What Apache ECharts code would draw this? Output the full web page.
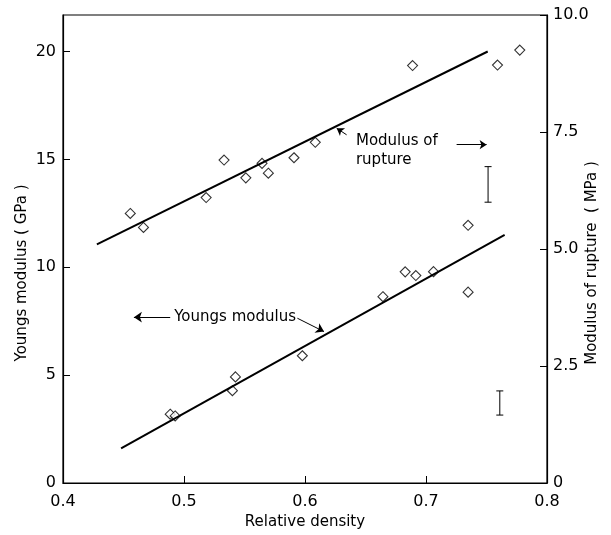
<!DOCTYPE html>
<html>
<head>
<meta charset="utf-8">
<script src="https://cdn.jsdelivr.net/npm/echarts@6/dist/echarts.min.js"></script>
<style>
  html, body { margin: 0; padding: 0; background: #fff; }
  #chart { width: 611px; height: 535px; }
</style>
</head>
<body>
<div id="chart"></div>
<script>
// Youngs modulus points (GPa, left axis)
var youngsX = [0.4886, 0.4927, 0.5400, 0.5425, 0.5978, 0.6644, 0.6828, 0.6916, 0.7062, 0.7348, 0.7348];
var youngsY = [3.19, 3.11, 4.28, 4.92, 5.90, 8.64, 9.79, 9.62, 9.80, 8.85, 11.95];
// Modulus of rupture points (MPa, right axis)
var ruptureX = [0.4556, 0.4665, 0.5183, 0.5331, 0.5511, 0.5645, 0.5697, 0.5909, 0.6085, 0.6889, 0.7591, 0.7775];
var ruptureY = [5.76, 5.46, 6.10, 6.90, 6.52, 6.83, 6.62, 6.95, 7.28, 8.92, 8.93, 9.25];
// fitted lines
var youngsFitX = [0.448, 0.765];
var youngsFitY = [1.61, 11.50];
var ruptureFitX = [0.428, 0.751];
var ruptureFitY = [5.10, 9.22];
// error bars
var gpaBarX = [0.761];
var gpaBarLow = [3.15];
var gpaBarHigh = [4.27];
var mpaBarX = [0.7513];
var mpaBarLow = [6.00];
var mpaBarHigh = [6.76];
// tick labels
var xTicks = [0.4, 0.5, 0.6, 0.7, 0.8];
var leftTicks = [0, 5, 10, 15, 20];
var rightTicks = [0, 2.5, 5, 7.5, 10];

var FONT = '"DejaVu Sans", sans-serif';

function zip(a, b) {
  var out = [];
  for (var i = 0; i < a.length; i++) out.push([a[i], b[i]]);
  return out;
}

function zip3(a, b, c) {
  var out = [];
  for (var i = 0; i < a.length; i++) out.push([a[i], b[i], c[i]]);
  return out;
}

function renderBar(params, api) {
  var top = api.coord([api.value(0), api.value(2)]);
  var bot = api.coord([api.value(0), api.value(1)]);
  var w = 3.5;
  var st = { stroke: '#000', lineWidth: 1 };
  return {
    type: 'group',
    children: [
      { type: 'line', shape: { x1: top[0], y1: top[1], x2: bot[0], y2: bot[1] }, style: st },
      { type: 'line', shape: { x1: top[0] - w, y1: top[1], x2: top[0] + w, y2: top[1] }, style: st },
      { type: 'line', shape: { x1: bot[0] - w, y1: bot[1], x2: bot[0] + w, y2: bot[1] }, style: st }
    ]
  };
}

function inList(list, v) {
  for (var i = 0; i < list.length; i++) {
    if (Math.abs(list[i] - v) < 1e-6) return true;
  }
  return false;
}

var axisLine = { show: true, lineStyle: { color: '#000', width: 1.2 } };
var axisTick = { show: true, inside: true, length: 7, lineStyle: { color: '#000', width: 1 } };

var chart = echarts.init(document.getElementById('chart'));

var option = {
  animation: false,
  backgroundColor: '#fff',
  grid: {
    left: 63, right: 64, top: 15, bottom: 52,
    show: true, borderColor: '#000', borderWidth: 1.2, backgroundColor: 'transparent'
  },
  xAxis: {
    type: 'value',
    min: 0.4, max: 0.8, interval: 0.1,
    axisLine: axisLine,
    axisTick: axisTick,
    splitLine: { show: false },
    axisLabel: {
      color: '#000', fontSize: 16, fontFamily: FONT, margin: 11,
      formatter: function (v) { return inList(xTicks, v) ? v.toFixed(1) : ''; }
    },
    name: 'Relative density',
    nameLocation: 'middle',
    nameGap: 31,
    nameTextStyle: { color: '#000', fontSize: 15, fontFamily: FONT }
  },
  yAxis: [
    {
      type: 'value',
      position: 'left',
      min: 0, max: 21.7, interval: 5,
      axisLine: axisLine,
      axisTick: axisTick,
      splitLine: { show: false },
      axisLabel: {
        color: '#000', fontSize: 16, fontFamily: FONT, margin: 7,
        showMaxLabel: false,
        formatter: function (v) { return inList(leftTicks, v) ? String(v) : ''; }
      }
    },
    {
      type: 'value',
      position: 'right',
      min: 0, max: 10, interval: 2.5,
      axisLine: axisLine,
      axisTick: axisTick,
      splitLine: { show: false },
      axisLabel: {
        color: '#000', fontSize: 16, fontFamily: FONT, margin: 6,
        formatter: function (v) {
          if (!inList(rightTicks, v)) return '';
          return v === 0 ? '0' : v.toFixed(1);
        }
      }
    }
  ],
  series: [
    {
      name: 'Youngs modulus fit',
      type: 'line',
      yAxisIndex: 0,
      data: zip(youngsFitX, youngsFitY),
      symbol: 'none',
      lineStyle: { color: '#000', width: 2 },
      silent: true,
      markLine: {
        silent: true,
        symbol: ['none', 'arrow'],
        symbolSize: 8,
        label: { show: false },
        lineStyle: { color: '#000', width: 1, type: 'solid' },
        data: [
          [{ coord: [0.4886, 7.69] }, { coord: [0.4586, 7.69] }],
          [{ coord: [0.5937, 7.64], lineStyle: { curveness: 0.4 } }, { coord: [0.6157, 7.02] }]
        ]
      }
    },
    {
      name: 'Modulus of rupture fit',
      type: 'line',
      yAxisIndex: 1,
      data: zip(ruptureFitX, ruptureFitY),
      symbol: 'none',
      lineStyle: { color: '#000', width: 2 },
      silent: true,
      markLine: {
        silent: true,
        symbol: ['none', 'arrow'],
        symbolSize: 7,
        label: { show: false },
        lineStyle: { color: '#000', width: 1, type: 'solid' },
        data: [
          [{ coord: [0.7253, 7.23] }, { coord: [0.7501, 7.23] }],
          [{ coord: [0.6344, 7.44] }, { coord: [0.6262, 7.58] }]
        ]
      }
    },
    {
      name: 'Youngs modulus',
      type: 'scatter',
      yAxisIndex: 0,
      data: zip(youngsX, youngsY),
      symbol: 'diamond',
      symbolSize: 10,
      itemStyle: { color: '#fff', borderColor: '#000', borderWidth: 1.1 }
    },
    {
      name: 'Modulus of rupture',
      type: 'scatter',
      yAxisIndex: 1,
      data: zip(ruptureX, ruptureY),
      symbol: 'diamond',
      symbolSize: 10,
      itemStyle: { color: '#fff', borderColor: '#000', borderWidth: 1.1 }
    },
    {
      name: 'GPa error',
      type: 'custom',
      yAxisIndex: 0,
      renderItem: renderBar,
      data: zip3(gpaBarX, gpaBarLow, gpaBarHigh)
    },
    {
      name: 'MPa error',
      type: 'custom',
      yAxisIndex: 1,
      renderItem: renderBar,
      data: zip3(mpaBarX, mpaBarLow, mpaBarHigh)
    }
  ]
};

chart.setOption(option);

// annotation texts, placed through the axes
var pY = chart.convertToPixel({ xAxisIndex: 0, yAxisIndex: 0 }, [0.4919, 7.69]);
var pR = chart.convertToPixel({ xAxisIndex: 0, yAxisIndex: 1 }, [0.6421, 7.10]);

chart.setOption({
  graphic: [
    {
      type: 'text', x: pY[0], y: pY[1],
      style: { text: 'Youngs modulus', font: '15px ' + FONT, fill: '#000', align: 'left', verticalAlign: 'middle' }
    },
    {
      type: 'text', x: pR[0], y: pR[1],
      style: { text: 'Modulus of\nrupture', font: '15px ' + FONT, lineHeight: 19, fill: '#000', align: 'left', verticalAlign: 'middle' }
    },
    {
      type: 'text', x: 22, y: 273, rotation: Math.PI / 2,
      style: { text: 'Youngs modulus ( GPa )', font: '15px ' + FONT, fill: '#000', align: 'center', verticalAlign: 'middle' }
    },
    {
      type: 'text', x: 592, y: 263, rotation: Math.PI / 2,
      style: { text: 'Modulus of rupture  ( MPa )', font: '15px ' + FONT, fill: '#000', align: 'center', verticalAlign: 'middle' }
    }
  ]
});
</script>
</body>
</html>
